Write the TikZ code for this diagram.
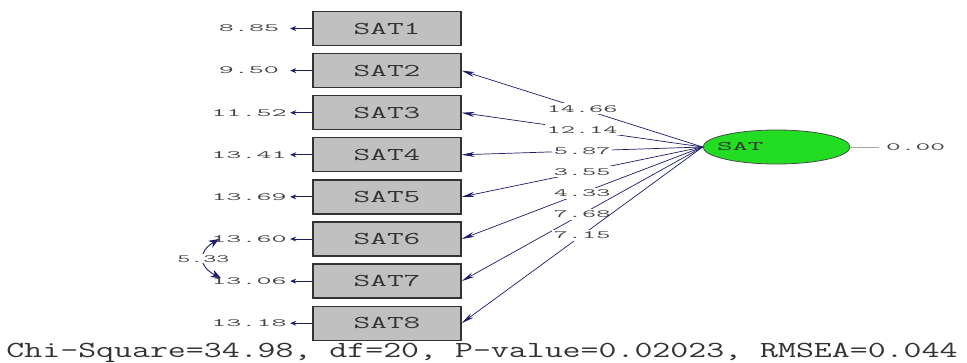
\documentclass[tikz,border=0pt]{standalone}
\usepackage{fontspec}
\usetikzlibrary{arrows.meta,shapes.geometric}
\definecolor{pathnavy}{HTML}{1C1C6A}
\definecolor{txtgray}{HTML}{333333}
\definecolor{numgray}{HTML}{444444}
\definecolor{boxgray}{HTML}{C0C0C0}
\definecolor{latgreen}{HTML}{22DD22}
% monospace text stretched horizontally
\newcommand{\wide}[2]{\scalebox{#1}[1]{#2}}
\newcommand{\numtxt}{\fontsize{11}{11}\selectfont\ttfamily}
\newcommand{\boxtxt}{\fontsize{18}{18}\selectfont\ttfamily}
\newcommand{\lattxt}{\fontsize{13}{13}\selectfont\ttfamily}
\newcommand{\fittxt}{\fontsize{23}{23}\selectfont\ttfamily}
\begin{document}
\begin{tikzpicture}[x=1pt,y=-1pt,
  obs/.style={draw=black!80, line width=1.3pt, fill=boxgray, minimum width=148pt,
    minimum height=34pt, inner sep=0pt, font=\boxtxt, text=txtgray},
  errlbl/.style={font=\numtxt, text=numgray, minimum width=82pt, inner sep=0pt, align=center},
  loadlbl/.style={font=\numtxt, text=numgray, fill=white, inner sep=2pt, midway},
  loadarrow/.style={draw=pathnavy, line width=0.7pt, -{Stealth[length=13pt,width=5pt]}},
  errarrow/.style={draw=pathnavy, line width=1pt, -{Stealth[length=6pt,width=5pt]}},
  corrarrow/.style={draw=pathnavy, line width=0.9pt, {Stealth[length=10pt,width=8pt]}-{Stealth[length=10pt,width=8pt]}}]
\useasboundingbox (0,0) rectangle (967,362);

% observed indicators
\foreach \i/\y in {1/28.5,2/70.6,3/112.7,4/154.8,5/196.9,6/239,7/281.1,8/323.2}{
  \node[obs] (s\i) at (387,\y) {\wide{1.8}{SAT\i}};
}

% error variances
\node[errlbl] (e1) at (249,28.5) {\wide{2.65}{8.85}};
\node[errlbl] (e2) at (249,70.6) {\wide{2.65}{9.50}};
\node[errlbl] (e3) at (249,112.7) {\wide{2.65}{11.52}};
\node[errlbl] (e4) at (249,154.8) {\wide{2.65}{13.41}};
\node[errlbl] (e5) at (249,196.9) {\wide{2.65}{13.69}};
\node[errlbl] (e6) at (249,239) {\wide{2.65}{13.60}};
\node[errlbl] (e7) at (249,281.1) {\wide{2.65}{13.06}};
\node[errlbl] (e8) at (249,323.2) {\wide{2.65}{13.18}};
\foreach \i in {1,...,8}{
  \draw[errarrow] (s\i.west) -- (e\i.east);
}

% error covariance between SAT6 and SAT7
\coordinate (c6) at ([xshift=11pt]e6.west);
\coordinate (c7) at ([xshift=13pt,yshift=3pt]e7.west);
\draw[corrarrow] (c6) .. controls (198,252) and (198,266) .. node[font=\numtxt, text=numgray, fill=white, inner sep=1pt] {\wide{2.3}{5.33}} (c7);

% latent factor
\node[ellipse, draw=black!70, line width=0.8pt, fill=latgreen, minimum width=147pt,
  minimum height=34pt, inner sep=0pt,
  label={[anchor=west, xshift=11pt, font=\lattxt, text=txtgray]west:\wide{2.3}{SAT}}] (sat) at (776.5,147) {};
\node[font=\numtxt, text=numgray, anchor=west, inner sep=0pt] (v) at (886,147) {\wide{2.6}{0.00}};
\draw[black!35, line width=0.6pt] (sat.east) -- ([xshift=-7pt]v.west);

% loadings
\draw[loadarrow] (sat.west) -- node[loadlbl] {\wide{2.5}{14.66}} (s2.east);
\draw[loadarrow] (sat.west) -- node[loadlbl] {\wide{2.5}{12.14}} (s3.east);
\draw[loadarrow] (sat.west) -- node[loadlbl] {\wide{2.5}{5.87}} (s4.east);
\draw[loadarrow] (sat.west) -- node[loadlbl] {\wide{2.5}{3.55}} (s5.east);
\draw[loadarrow] (sat.west) -- node[loadlbl] {\wide{2.5}{4.33}} (s6.east);
\draw[loadarrow] (sat.west) -- node[loadlbl] {\wide{2.5}{7.68}} (s7.east);
\draw[loadarrow] (sat.west) -- node[loadlbl] {\wide{2.5}{7.15}} (s8.east);

% fit statistics
\node[font=\fittxt, text=txtgray, inner sep=0pt, anchor=base] (fit) at (482,357) {\wide{1.515}{Chi-Square=34.98, df=20, P-value=0.02023, RMSEA=0.044}};
\end{tikzpicture}
\end{document}
